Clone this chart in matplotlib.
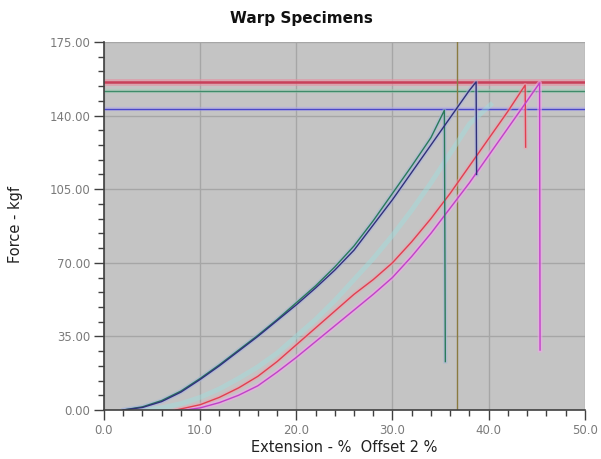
import matplotlib
matplotlib.use("Agg")
import matplotlib.pyplot as plt
from matplotlib.ticker import MultipleLocator, FormatStrFormatter

# ---- data ----
green_x = [2, 4, 6, 8, 10, 12, 14, 16, 18, 20, 22, 24, 26, 28, 30, 32, 34, 35.4, 35.5]
green_y = [0, 1.5, 4.5, 9, 15, 21.5, 28.5, 35.5, 43, 51, 59, 68, 78, 90, 103, 116, 129.5, 142.5, 23]

navy_x = [2, 4, 6, 8, 10, 12, 14, 16, 18, 20, 22, 24, 26, 28, 30, 32, 34, 36, 38, 38.7, 38.75]
navy_y = [0, 1.2, 4, 8.5, 14.5, 21, 28, 35, 42.5, 50, 58, 66.5, 76, 88, 100, 113, 126, 139, 152, 156, 112]

cyan_x = [4, 6, 8, 10, 12, 14, 16, 18, 20, 22, 24, 26, 28, 30, 32, 34, 36, 38, 40.4]
cyan_y = [0, 1, 3, 6, 10, 15, 20.5, 27, 35, 43, 52, 62, 72, 83, 95, 108, 122, 136, 146]

red_x = [7.5, 10, 12, 14, 16, 18, 20, 22, 24, 26, 28, 30, 32, 34, 36, 38, 40, 42, 43.8, 43.85]
red_y = [0, 2.5, 6, 10.5, 16, 23, 31, 39, 47, 55, 62, 70, 80, 91, 103, 116, 129, 142, 154.5, 125]

magenta_x = [8.5, 10, 12, 14, 16, 18, 20, 22, 24, 26, 28, 30, 32, 34, 36, 38, 40, 42, 44, 45.3, 45.35]
magenta_y = [0, 1, 3.5, 7, 11.5, 18, 25, 32.5, 40, 47.5, 55, 63, 73, 84, 96, 108, 121, 134, 147, 155.5, 28.5]

peak_lines = [156.0, 151.7, 143.0]
peak_colors = ["#c8405a", "#3f8a6a", "#4a48c8"]
marker_x = 36.7

x_ticks = [0, 10, 20, 30, 40, 50]
y_ticks = [0, 35, 70, 105, 140, 175]

# ---- figure ----
fig = plt.figure(figsize=(6.01, 4.59), dpi=100)
ax = fig.add_axes([0.173, 0.1068, 0.80, 0.8017])
ax.set_facecolor("#c4c4c4")
ax.set_xlim(0, 50)
ax.set_ylim(0, 175)

ax.set_xticks(x_ticks)
ax.set_yticks(y_ticks)
ax.xaxis.set_minor_locator(MultipleLocator(2))
ax.yaxis.set_minor_locator(MultipleLocator(7))
ax.xaxis.set_major_formatter(FormatStrFormatter("%.1f"))
ax.yaxis.set_major_formatter(FormatStrFormatter("%.2f"))
ax.grid(True, which="major", color="#a6a6a6", linewidth=1.0)
ax.set_axisbelow(True)

for s in ["top", "right"]:
    ax.spines[s].set_visible(False)
for s in ["left", "bottom"]:
    ax.spines[s].set_color("#404040")
    ax.spines[s].set_linewidth(1.2)

ax.tick_params(which="major", length=7, width=1, color="#404040",
               labelsize=8.5, labelcolor="#7a7a7a", pad=3)
ax.tick_params(which="minor", length=4, width=1, color="#404040")

# horizontal peak lines
ax.axhline(peak_lines[0], color="#e890a0", linewidth=5, alpha=0.6)
ax.axhline(peak_lines[0], color=peak_colors[0], linewidth=1.8)
ax.axhline(peak_lines[1], color="#9fd0b8", linewidth=3, alpha=0.5)
ax.axhline(peak_lines[1], color=peak_colors[1], linewidth=1.0)
ax.axhline(peak_lines[2], color="#b0a8f0", linewidth=3, alpha=0.5)
ax.axhline(peak_lines[2], color=peak_colors[2], linewidth=1.0)

# marker vertical line
ax.axvline(marker_x, color="#8a7a40", linewidth=1.0)

# curves with soft halos
ax.plot(cyan_x, cyan_y, color="#9ee0e0", linewidth=3.5, alpha=0.45, solid_capstyle="butt")
ax.plot(red_x, red_y, color="#f0a0b0", linewidth=3, alpha=0.5)
ax.plot(magenta_x, magenta_y, color="#f0a8e8", linewidth=3.5, alpha=0.6)
ax.plot(green_x, green_y, color="#a0b8d8", linewidth=3, alpha=0.5)
ax.plot(navy_x, navy_y, color="#a8b0e0", linewidth=3, alpha=0.5)

ax.plot(red_x, red_y, color="#e04050", linewidth=1.0)
ax.plot(magenta_x, magenta_y, color="#c040c8", linewidth=1.0)
ax.plot(green_x, green_y, color="#2a7a5a", linewidth=1.0)
ax.plot(navy_x, navy_y, color="#30307a", linewidth=1.0)

fig.text(0.502, 0.96, "Warp Specimens", fontsize=11, fontweight="heavy",
         color="#111111", ha="center", va="center")
ax.set_xlabel("Extension - %  Offset 2 %", fontsize=10.5, color="#222222", labelpad=2)
fig.text(0.026, 0.51, "Force - kgf", fontsize=10.5, color="#222222",
         rotation=90, ha="center", va="center")

fig.savefig("out.png", dpi=100)
